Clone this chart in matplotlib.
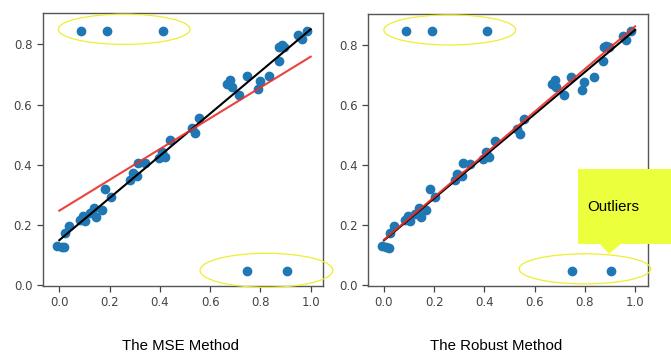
import matplotlib
matplotlib.use("Agg")
import matplotlib.pyplot as plt
from matplotlib.patches import Ellipse, Polygon, Rectangle

# ---- data ----
x_in = [-0.008, 0.009, 0.020, 0.023, 0.038, 0.082, 0.095, 0.103, 0.122, 0.138,
        0.146, 0.168, 0.183, 0.204, 0.281, 0.292, 0.310, 0.314, 0.341, 0.395,
        0.407, 0.420, 0.440, 0.528, 0.540, 0.557, 0.668, 0.679, 0.686, 0.716,
        0.745, 0.789, 0.798, 0.836, 0.874, 0.875, 0.885, 0.894, 0.951, 0.964,
        0.984]
y_in = [0.132, 0.128, 0.126, 0.173, 0.198, 0.217, 0.230, 0.215, 0.239, 0.256,
        0.226, 0.250, 0.320, 0.294, 0.350, 0.372, 0.363, 0.407, 0.405, 0.422,
        0.444, 0.427, 0.482, 0.521, 0.505, 0.554, 0.670, 0.682, 0.660, 0.632,
        0.695, 0.651, 0.678, 0.695, 0.746, 0.792, 0.798, 0.792, 0.831, 0.817,
        0.845]
x_out = [0.086, 0.191, 0.411, 0.748, 0.905]
y_out = [0.845, 0.845, 0.845, 0.049, 0.049]

line_x = [0.0, 1.0]
true_y = [0.150, 0.850]
mse_y = [0.248, 0.759]
robust_y = [0.152, 0.862]

titles = ["The MSE Method", "The Robust Method"]
ticks = [0.0, 0.2, 0.4, 0.6, 0.8, 1.0]
yticks = [0.0, 0.2, 0.4, 0.6, 0.8]

W, H = 671, 353
fig = plt.figure(figsize=(W / 100, H / 100), dpi=100)
fig.patch.set_facecolor("white")

def add_ax(l, r, t, b):
    return fig.add_axes([l / W, 1 - b / H, (r - l) / W, (b - t) / H])

ax1 = add_ax(42.7, 323, 13.3, 286)
ax2 = add_ax(368.3, 647.7, 14, 286)

fits = [mse_y, robust_y]
xlims = [(-0.066, 1.049), (-0.0625, 1.05)]
ell_top = [(0.258, 0.85, 0.524, 0.10), (0.262, 0.85, 0.525, 0.10)]
ell_bot = [(0.824, 0.05, 0.528, 0.113), (0.80, 0.055, 0.524, 0.10)]

for i, ax in enumerate([ax1, ax2]):
    ax.scatter(x_in + x_out, y_in + y_out, s=36, color="#1f77b4", zorder=3)
    ax.plot(line_x, true_y, color="black", lw=1.5, zorder=4)
    ax.plot(line_x, fits[i], color="#e8302a", lw=1.5, zorder=5, alpha=0.9)
    ax.set_xlim(*xlims[i])
    ax.set_ylim(-0.002, 0.903)
    ax.set_xticks(ticks)
    ax.set_yticks(yticks)
    ax.set_xticklabels([f"{t:.1f}" for t in ticks])
    ax.set_yticklabels([f"{t:.1f}" for t in yticks])
    ax.tick_params(labelsize=8.5, colors="#444444", length=4, width=0.9)
    for sp in ax.spines.values():
        sp.set_color("#555555")
        sp.set_linewidth(1.0)
    for (cx, cy, w, h) in (ell_top[i], ell_bot[i]):
        e = Ellipse((cx, cy), w, h, fill=False, edgecolor="#eeee30", lw=0.9,
                    clip_on=False, zorder=6)
        ax.add_patch(e)
    cx_fig = (ax.get_position().x0 + ax.get_position().x1) / 2
    fig.text(cx_fig if i == 0 else 496 / W, 1 - 346 / H, titles[i],
             ha="center", va="center", fontsize=10.8,
             family=["Liberation Sans", "DejaVu Sans"], color="black")
    if i == 0:
        fig.texts[-1].set_x(180 / W)

# callout "Outliers"
yel = "#ecff3d"
fig.patches.append(Rectangle((578 / W, 1 - 244 / H), (671 - 578) / W, (244 - 169) / H,
                             transform=fig.transFigure, facecolor=yel,
                             edgecolor="none", zorder=10))
fig.patches.append(Polygon([(599 / W, 1 - 243 / H), (622 / W, 1 - 243 / H),
                            (609 / W, 1 - 254 / H)], closed=True,
                           transform=fig.transFigure, facecolor=yel,
                           edgecolor="none", zorder=10))
fig.text(587 / W, 1 - 207 / H, "Outliers", ha="left", va="center",
         fontsize=10.8, family=["Liberation Sans", "DejaVu Sans"], color="black",
         zorder=11)

fig.savefig("out.png", dpi=100)
